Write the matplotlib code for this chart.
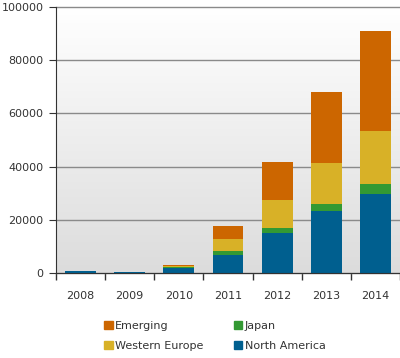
import numpy as np
import matplotlib.pyplot as plt
from matplotlib.patches import Patch

years = ["2008", "2009", "2010", "2011", "2012", "2013", "2014"]
north_america = [600, 400, 1800, 6800, 15200, 23400, 29800]
japan = [100, 0, 400, 1600, 1700, 2600, 3500]
western_europe = [100, 0, 500, 4500, 10500, 15500, 20000]
emerging = [100, 0, 300, 4900, 14400, 26400, 37700]

colors = {"Emerging": "#cc6600", "Western Europe": "#d8b127",
          "Japan": "#339933", "North America": "#005f8f"}
text_color = "#333333"

fig = plt.figure(figsize=(4, 3.58), dpi=100)
ax = fig.add_axes([0.14, 0.2374, 0.86, 0.743])

# gradient background, white at the top
grad = np.linspace(0, 1, 256).reshape(-1, 1)
ax.imshow(grad, extent=[0, 1, 0, 1], transform=ax.transAxes, aspect="auto",
          cmap=plt.matplotlib.colors.LinearSegmentedColormap.from_list(
              "bg", ["#ffffff", "#dcdcdc"]), vmin=0, vmax=1, zorder=0)

x = np.arange(len(years))
w = 0.63
bottom = np.zeros(len(years))
for name, vals in [("North America", north_america), ("Japan", japan),
                   ("Western Europe", western_europe), ("Emerging", emerging)]:
    ax.bar(x, vals, w, bottom=bottom, color=colors[name], zorder=3, linewidth=0)
    bottom += np.array(vals)

ax.set_xlim(-0.5, len(years) - 0.5)
ax.set_ylim(0, 100000)
ax.set_yticks(np.arange(0, 100001, 20000))
ax.yaxis.grid(True, color="#8a8a8a", linewidth=1)
for gl in ax.get_ygridlines():
    gl.set_zorder(1)
    gl.set_clip_on(False)

ax.set_xticks(x)
ax.set_xticklabels(years)
ax.set_xticks(np.arange(-0.5, len(years) + 0.5, 1), minor=True)
ax.tick_params(axis="x", which="major", length=0, pad=13, labelsize=8, labelcolor=text_color)
ax.tick_params(axis="x", which="minor", length=5, color="#333333", width=1)
ax.tick_params(axis="y", length=5, pad=4, labelsize=8, labelcolor=text_color, color="#333333")

for s in ["top", "right"]:
    ax.spines[s].set_visible(False)
for s in ["left", "bottom"]:
    ax.spines[s].set_color("#333333")
    ax.spines[s].set_zorder(4)

order = ["Emerging", "Western Europe", "Japan", "North America"]
handles = [Patch(color=colors[n], label=n) for n in order]
fig.legend(handles=handles, ncol=2, loc="center", bbox_to_anchor=(0.537, 0.062),
           frameon=False, fontsize=8, handlelength=0.8, handleheight=0.8,
           handletextpad=0.2, columnspacing=2.7, labelspacing=0.9,
           labelcolor=text_color)

fig.savefig("out.png", dpi=100)
